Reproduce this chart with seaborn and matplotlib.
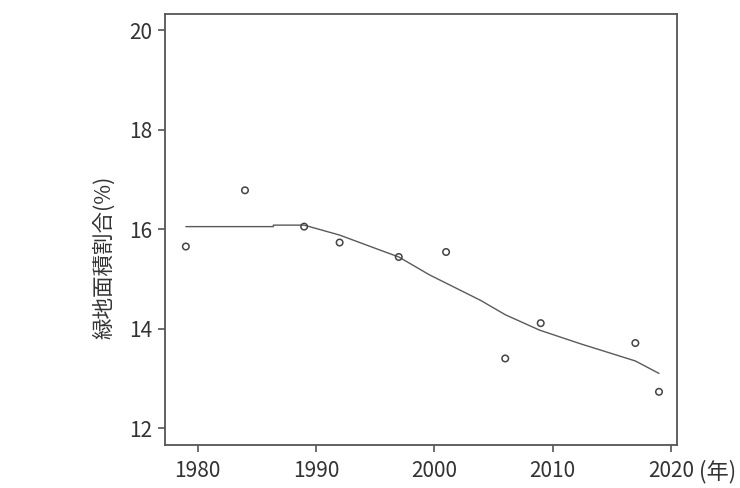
import numpy as np
import pandas as pd
import matplotlib
matplotlib.use("Agg")
import matplotlib.pyplot as plt
import seaborn as sns

# observed points
years = [1979, 1984, 1989, 1992, 1997, 2001, 2006, 2009, 2017, 2019]
ratio = [15.65, 16.78, 16.05, 15.73, 15.44, 15.54, 13.40, 14.11, 13.71, 12.73]

# smoothed trend line
trend_years = [1979, 1986.4, 1986.4, 1989, 1992, 1995.4, 1997, 1999.6, 2003.9, 2006, 2008.9, 2012.3, 2017, 2019]
trend_ratio = [16.05, 16.05, 16.08, 16.08, 15.88, 15.58, 15.44, 15.08, 14.57, 14.28, 13.97, 13.70, 13.35, 13.10]

x_ticks = [1980, 1990, 2000, 2010, 2020]
y_ticks = [12, 14, 16, 18, 20]

sns.set_style("white")
plt.rcParams['font.family'] = ['Noto Sans CJK JP', 'DejaVu Sans']

df = pd.DataFrame({'year': years, 'ratio': ratio})
tr = pd.DataFrame({'year': trend_years, 'ratio': trend_ratio})

fig = plt.figure(figsize=(7.4, 4.88), dpi=100)
ax = fig.add_axes([0.223, 0.088, 0.692, 0.883])

sns.lineplot(data=tr, x='year', y='ratio', sort=False, estimator=None,
             color='#5a5a5a', linewidth=1.0, ax=ax)
sns.scatterplot(data=df, x='year', y='ratio', s=22, facecolor='none',
                edgecolor='#444444', linewidth=1.1, ax=ax, zorder=3)

ax.set_xlim(1977.24, 2020.53)
ax.set_ylim(11.66, 20.32)
ax.set_xticks(x_ticks)
ax.set_yticks(y_ticks)
ax.tick_params(axis='both', direction='out', length=5, width=1.2,
               color='#555555', labelsize=15, labelcolor='#333333', pad=4,
               bottom=True, left=True)
ax.tick_params(axis='x', pad=6)

for sp in ax.spines.values():
    sp.set_color('#555555')
    sp.set_linewidth(1.3)

ax.set_xlabel('')
ax.set_ylabel('緑地面積割合(%)', fontsize=15.5, color='#333333')
ax.yaxis.set_label_coords(-0.098, 0.436)

# unit label right of the last x tick
ax.text(699, 16, '(年)', transform=None, fontsize=16,
        color='#333333', ha='left', va='center')

fig.savefig('out.png', dpi=100)
